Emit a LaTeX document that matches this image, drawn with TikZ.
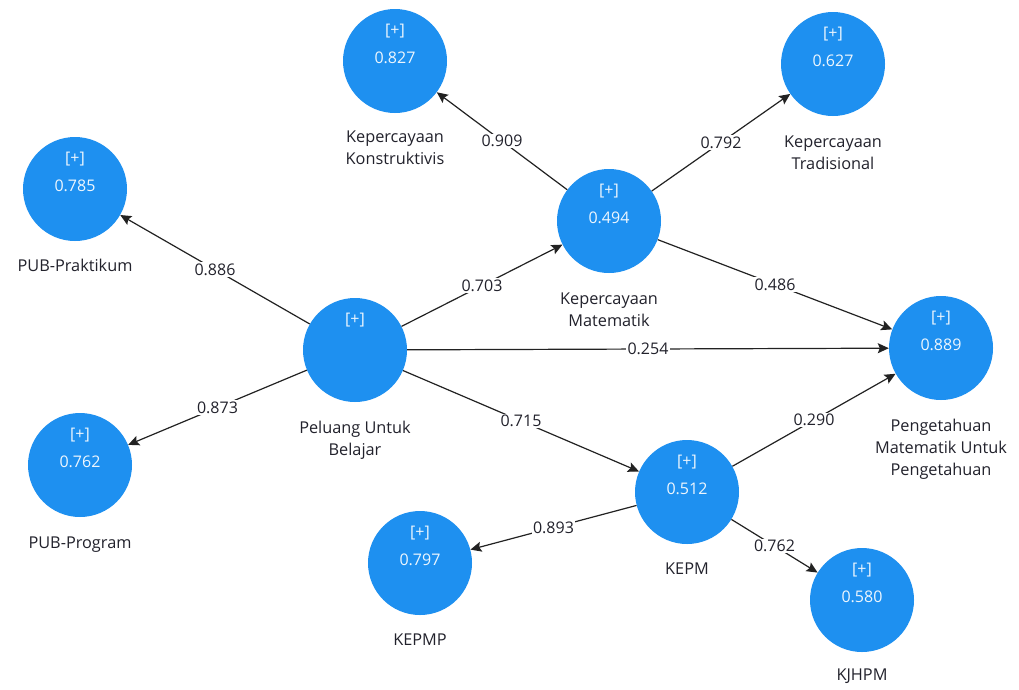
\documentclass[tikz,border=0pt]{standalone}
\usepackage{fontspec}
\setmainfont{Open Sans}
\usetikzlibrary{arrows.meta}
\definecolor{lvblue}{RGB}{30,144,240}
\definecolor{edgeink}{RGB}{34,34,34}
\definecolor{lbltext}{RGB}{34,34,44}
\tikzset{
  lv/.style={circle, fill=lvblue, draw=none, minimum size=104pt, inner sep=0pt},
  lvtxt/.style={text=white!92!lvblue, font=\fontsize{16}{19}\selectfont, inner sep=0pt},
  lvname/.style={anchor=north, align=center, inner sep=0pt, text=lbltext,
                 font=\fontsize{16.3}{22}\selectfont},
  path/.style={draw=edgeink, line width=1.2pt, -{Stealth[length=11pt,width=10pt,inset=2pt]}},
  coef/.style={fill=white, inner sep=1.5pt, text=lbltext, font=\fontsize{16}{19}\selectfont, midway}
}
\begin{document}
\begin{tikzpicture}[x=1pt, y=-1pt]
\useasboundingbox[fill=white] (0,0) rectangle (1019,689);

% latent variables
\node[lv] (pub)   at (355,350) {};
\node[lv] (prak)  at (75,189)  {};
\node[lv] (prog)  at (80,465)  {};
\node[lv] (kons)  at (395,61)  {};
\node[lv] (trad)  at (833,64)  {};
\node[lv] (km)    at (609,221) {};
\node[lv] (pmup)  at (941,348) {};
\node[lv] (kepm)  at (687,492) {};
\node[lv] (kepmp) at (420,563) {};
\node[lv] (kjhpm) at (862,600) {};

% expand markers and R-squared values
\node[lvtxt] (pubx)   at ([yshift=30pt]pub.center)   {[+]};
\node[lvtxt] (prakx)  at ([yshift=30pt]prak.center)  {[+]};
\node[lvtxt] (prakv)  at ([yshift=3pt]prak.center)   {0.785};
\node[lvtxt] (progx)  at ([yshift=30pt]prog.center)  {[+]};
\node[lvtxt] (progv)  at ([yshift=3pt]prog.center)   {0.762};
\node[lvtxt] (konsx)  at ([yshift=30pt]kons.center)  {[+]};
\node[lvtxt] (konsv)  at ([yshift=3pt]kons.center)   {0.827};
\node[lvtxt] (tradx)  at ([yshift=30pt]trad.center)  {[+]};
\node[lvtxt] (tradv)  at ([yshift=3pt]trad.center)   {0.627};
\node[lvtxt] (kmx)    at ([yshift=30pt]km.center)    {[+]};
\node[lvtxt] (kmv)    at ([yshift=3pt]km.center)     {0.494};
\node[lvtxt] (pmupx)  at ([yshift=30pt]pmup.center)  {[+]};
\node[lvtxt] (pmupv)  at ([yshift=3pt]pmup.center)   {0.889};
\node[lvtxt] (kepmx)  at ([yshift=30pt]kepm.center)  {[+]};
\node[lvtxt] (kepmv)  at ([yshift=3pt]kepm.center)   {0.512};
\node[lvtxt] (kepmpx) at ([yshift=30pt]kepmp.center) {[+]};
\node[lvtxt] (kepmpv) at ([yshift=3pt]kepmp.center)  {0.797};
\node[lvtxt] (kjhpmx) at ([yshift=30pt]kjhpm.center) {[+]};
\node[lvtxt] (kjhpmv) at ([yshift=3pt]kjhpm.center)  {0.580};

% names under the circles
\node[lvname] (pubn)   at ([yshift=-71pt]pub.center)   {Peluang Untuk\\Belajar};
\node[lvname] (prakn)  at ([yshift=-70pt]prak.center)  {PUB-Praktikum};
\node[lvname] (progn)  at ([yshift=-72pt]prog.center)  {PUB-Program};
\node[lvname] (konsn)  at ([yshift=-70pt]kons.center)  {Kepercayaan\\Konstruktivis};
\node[lvname] (tradn)  at ([yshift=-72pt]trad.center)  {Kepercayaan\\Tradisional};
\node[lvname] (kmn)    at ([yshift=-72pt]km.center)    {Kepercayaan\\Matematik};
\node[lvname] (pmupn)  at ([yshift=-71pt]pmup.center)  {Pengetahuan\\Matematik Untuk\\Pengetahuan};
\node[lvname] (kepmn)  at ([yshift=-71pt]kepm.center)  {KEPM};
\node[lvname] (kepmpn) at ([yshift=-71pt]kepmp.center) {KEPMP};
\node[lvname] (kjhpmn) at ([yshift=-69pt]kjhpm.center) {KJHPM};

% path coefficients
\draw[path] (pub) -- (prak)  node[coef] (c1)  {0.886};
\draw[path] (pub) -- (prog)  node[coef] (c2)  {0.873};
\draw[path] (pub) -- (km)    node[coef] (c3)  {0.703};
\draw[path] (pub) -- (pmup)  node[coef] (c4)  {0.254};
\draw[path] (pub) -- (kepm)  node[coef] (c5)  {0.715};
\draw[path] (km)  -- (kons)  node[coef] (c6)  {0.909};
\draw[path] (km)  -- (trad)  node[coef] (c7)  {0.792};
\draw[path] (km)  -- (pmup)  node[coef] (c8)  {0.486};
\draw[path] (kepm) -- (pmup) node[coef] (c9)  {0.290};
\draw[path] (kepm) -- (kepmp) node[coef] (c10) {0.893};
\draw[path] (kepm) -- (kjhpm) node[coef] (c11) {0.762};
\end{tikzpicture}
\end{document}
